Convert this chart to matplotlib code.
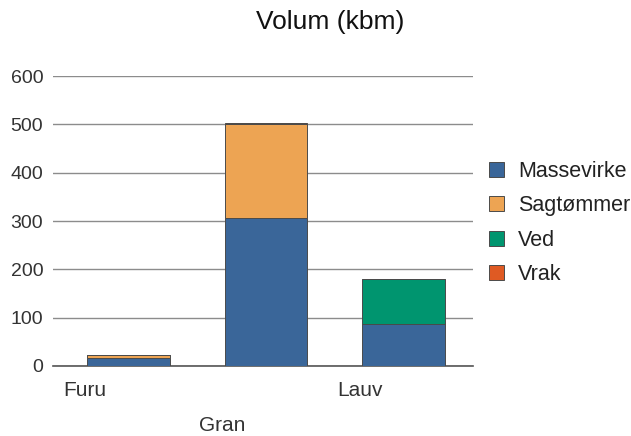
import numpy as np
import matplotlib.pyplot as plt

plt.rcParams['font.family'] = ['Liberation Sans', 'DejaVu Sans']

categories = ['Furu', 'Gran', 'Lauv']
massevirke = [16, 307, 86]
sagtommer = [6, 193, 0]
ved = [0, 0, 94]
vrak = [0, 2, 0]
series = [('Massevirke', massevirke, '#3a6699'),
          ('Sagtømmer', sagtommer, '#eda453'),
          ('Ved', ved, '#00956f'),
          ('Vrak', vrak, '#df5a23')]
yticks = [0, 100, 200, 300, 400, 500, 600]

fig = plt.figure(figsize=(6.31, 4.36), dpi=100)
ax = fig.add_axes([53 / 631, 1 - 366 / 436, 420 / 631, 290 / 436])

x = np.arange(len(categories))
bottom = np.zeros(len(categories))
for name, vals, col in series:
    vals = np.array(vals, dtype=float)
    ax.bar(x, vals, width=0.6, bottom=bottom, color=col, edgecolor='#4a4a4a',
           linewidth=0.7, label=name, zorder=3)
    bottom += vals

ax.set_xlim(-0.549, 2.505)
ax.set_ylim(0, 600)
ax.set_yticks(yticks)
ax.set_yticklabels([str(t) for t in yticks], fontsize=14, color='#333333')
ax.tick_params(axis='y', length=0, pad=7)
ax.set_xticks([])
ax.grid(axis='y', color='#8c8c8c', linewidth=1, zorder=0)
for s in ['top', 'right', 'left']:
    ax.spines[s].set_visible(False)
ax.spines['bottom'].set_color('#555555')
ax.spines['bottom'].set_linewidth(1.2)

# staggered category labels, shifted left of the bars
offsets = [-0.32, -0.32, -0.32]
ypos = [-0.085, -0.205, -0.085]
for i, cat in enumerate(categories):
    ax.text(x[i] + offsets[i], ypos[i], cat, transform=ax.get_xaxis_transform(),
            ha='center', va='center', fontsize=15, color='#333333')

fig.text(330 / 631, 1 - 22 / 436, 'Volum (kbm)', ha='center', va='center',
         fontsize=19, color='#111111')

leg = fig.legend(loc='center left', bbox_to_anchor=(489 / 631, 1 - 223 / 436),
                 frameon=False, fontsize=15.5, handlelength=0.7, handleheight=0.7,
                 labelspacing=0.62, handletextpad=0.65, borderpad=0,
                 borderaxespad=0)
for t in leg.get_texts():
    t.set_color('#222222')

fig.savefig('out.png', dpi=100)
